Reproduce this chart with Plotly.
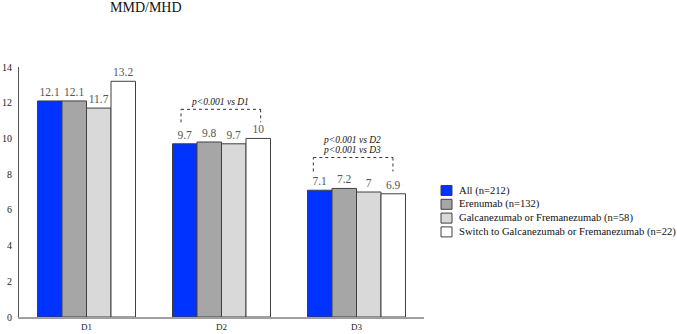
import plotly.graph_objects as go

categories = ["D1", "D2", "D3"]
series_names = [
    "All (n=212)",
    "Erenumab (n=132)",
    "Galcanezumab or Fremanezumab (n=58)",
    "Switch to Galcanezumab or Fremanezumab (n=22)",
]
values_all = [12.1, 9.7, 7.1]
values_erenumab = [12.1, 9.8, 7.2]
values_galc_frem = [11.7, 9.7, 7.0]
values_switch = [13.2, 10.0, 6.9]
label_all = ["12.1", "9.7", "7.1"]
label_erenumab = ["12.1", "9.8", "7.2"]
label_galc_frem = ["11.7", "9.7", "7"]
label_switch = ["13.2", "10", "6.9"]
y_ticks = [0, 2, 4, 6, 8, 10, 12, 14]

colors = ["#0033FF", "#A6A6A6", "#D9D9D9", "#FFFFFF"]
serif = "Liberation Serif"

W, H = 677, 334
L, R, T, B = 19, 253, 67, 17
PW, PH = W - L - R, H - T - B


def px_x(x):
    return (x - L) / PW


def px_y(y):
    return (H - B - y) / PH


fig = go.Figure()
for name, vals, labs, col in zip(
    series_names,
    [values_all, values_erenumab, values_galc_frem, values_switch],
    [label_all, label_erenumab, label_galc_frem, label_switch],
    colors,
):
    fig.add_trace(go.Bar(
        x=categories, y=vals, name=name,
        marker=dict(color=col, line=dict(color="#404040", width=1)),
        text=labs, textposition="outside", cliponaxis=False,
        textfont=dict(family=serif, size=11.5, color="#555555"),
        showlegend=False,
    ))

# legend drawn as paper-referenced marks
for i, (name, col) in enumerate(zip(series_names, colors)):
    cy = 190.5 + 13.8 * i
    fig.add_shape(type="rect", xref="paper", yref="paper",
                  x0=px_x(441), x1=px_x(452), y0=px_y(cy + 5), y1=px_y(cy - 5),
                  fillcolor=col, line=dict(color="#404040", width=1))
    fig.add_annotation(xref="paper", yref="paper", x=px_x(457), y=px_y(cy),
                       xanchor="left", yanchor="middle", text=name, showarrow=False,
                       font=dict(family=serif, size=10.6, color="#111111"))

# significance brackets
brackets = [
    (0.70, 1.29, 11.63, 10.9),
    (1.68, 2.27, 8.93, 8.15),
]
for x0, x1, ytop, ybot in brackets:
    for xs, ys in [((x0, x0), (ybot, ytop)), ((x0, x1), (ytop, ytop)), ((x1, x1), (ytop, ybot))]:
        fig.add_shape(type="line", xref="x", yref="y", x0=xs[0], x1=xs[1], y0=ys[0], y1=ys[1],
                      line=dict(color="#333333", width=1, dash="dot"))

ann_font = dict(family=serif, size=9.5, color="#111111")
fig.add_annotation(x=0.99, y=12.04, xref="x", yref="y", text="<i>p<0.001 vs D1</i>",
                   showarrow=False, font=ann_font)
fig.add_annotation(x=1.97, y=9.94, xref="x", yref="y", text="<i>p<0.001 vs D2</i>",
                   showarrow=False, font=ann_font)
fig.add_annotation(x=1.97, y=9.38, xref="x", yref="y", text="<i>p<0.001 vs D3</i>",
                   showarrow=False, font=ann_font)

fig.add_annotation(xref="paper", yref="paper", x=px_x(146), y=px_y(7), text="MMD/MHD",
                   showarrow=False, xanchor="center", yanchor="middle",
                   font=dict(family=serif, size=14, color="#111111"))

fig.update_layout(
    width=W, height=H,
    margin=dict(l=L, r=R, t=T, b=B, autoexpand=False),
    paper_bgcolor="white", plot_bgcolor="white",
    barmode="group", bargap=0.274, bargroupgap=0,
    font=dict(family=serif, color="#222222"),
    showlegend=False,
    xaxis=dict(showline=True, linecolor="#A0A0A0", linewidth=1.5, ticks="",
               tickfont=dict(family=serif, size=9, color="#222222"), showgrid=False),
    yaxis=dict(range=[0, 14], tickvals=y_ticks, showline=True, linecolor="#555555", linewidth=1,
               ticks="", showgrid=False, zeroline=False, ticklabelstandoff=4,
               tickfont=dict(family=serif, size=10, color="#222222")),
)

fig.write_html("out.html", config={"displayModeBar": False},
               post_script="document.body.style.margin='0';")
